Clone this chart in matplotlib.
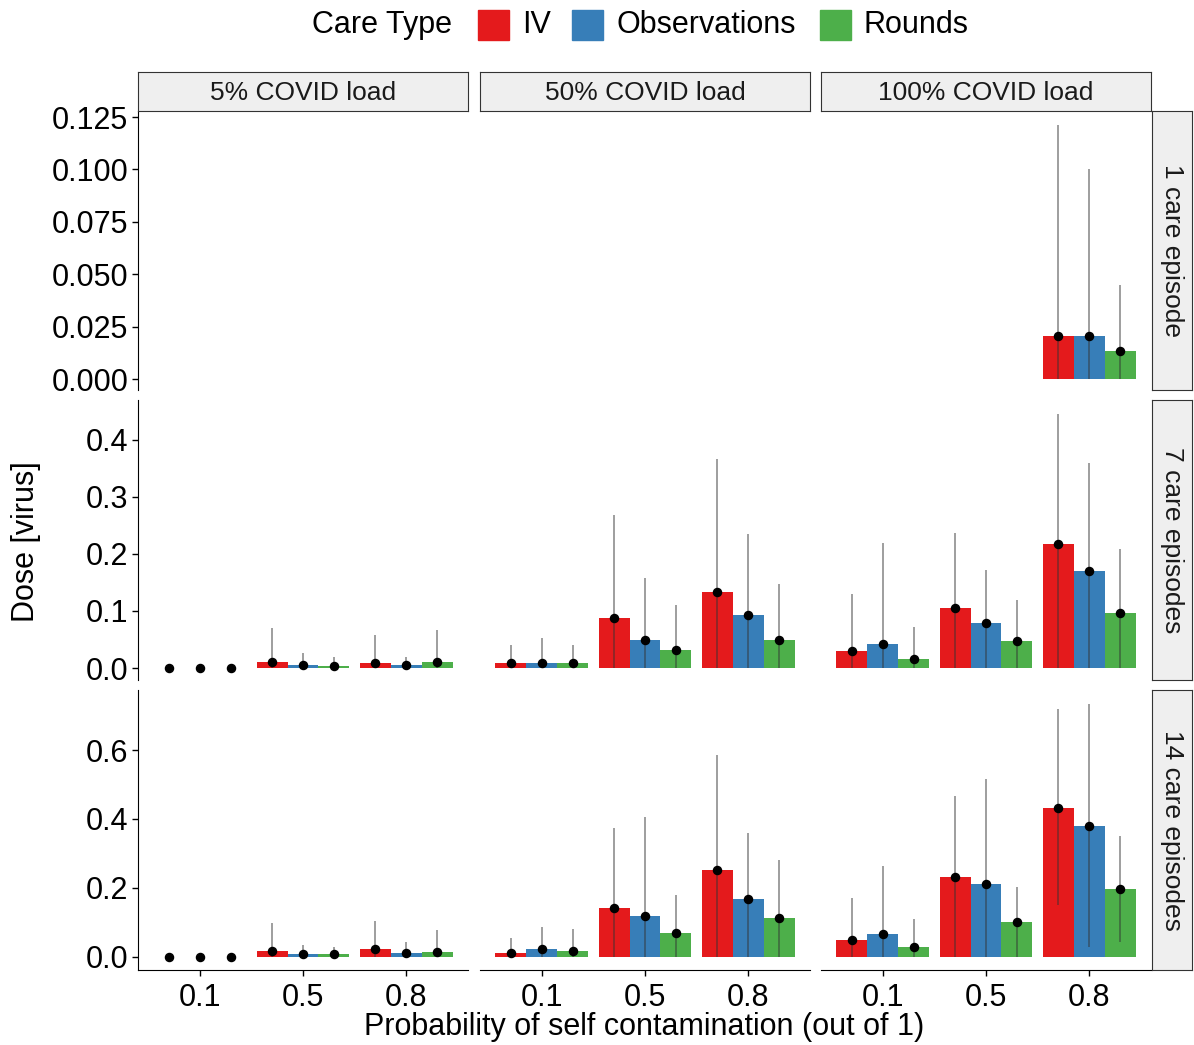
import numpy as np
import matplotlib
matplotlib.use('Agg')
import matplotlib.pyplot as plt
from matplotlib.patches import Rectangle

plt.rcParams['font.family'] = ['Liberation Sans', 'DejaVu Sans']

care_types = ['IV', 'Observations', 'Rounds']
colors = ['#E41A1C', '#377EB8', '#4DAF4A']
loads = ['5% COVID load', '50% COVID load', '100% COVID load']
episodes = ['1 care episode', '7 care episodes', '14 care episodes']
probs = ['0.1', '0.5', '0.8']

# values[load][prob] = [IV, Observations, Rounds]; nan = no data
nan = np.nan
mean_1 = [
    [[nan, nan, nan], [nan, nan, nan], [nan, nan, nan]],
    [[nan, nan, nan], [nan, nan, nan], [nan, nan, nan]],
    [[nan, nan, nan], [nan, nan, nan], [0.0205, 0.0205, 0.0135]],
]
upper_1 = [
    [[nan, nan, nan], [nan, nan, nan], [nan, nan, nan]],
    [[nan, nan, nan], [nan, nan, nan], [nan, nan, nan]],
    [[nan, nan, nan], [nan, nan, nan], [0.121, 0.100, 0.045]],
]
lower_1 = [
    [[nan, nan, nan], [nan, nan, nan], [nan, nan, nan]],
    [[nan, nan, nan], [nan, nan, nan], [nan, nan, nan]],
    [[nan, nan, nan], [nan, nan, nan], [0.0, 0.0, 0.0]],
]

mean_7 = [
    [[0.0, 0.0, 0.0], [0.010, 0.005, 0.004], [0.008, 0.005, 0.010]],
    [[0.008, 0.009, 0.008], [0.088, 0.049, 0.032], [0.133, 0.093, 0.049]],
    [[0.030, 0.042, 0.016], [0.105, 0.079, 0.047], [0.217, 0.170, 0.097]],
]
upper_7 = [
    [[0.0, 0.0, 0.0], [0.070, 0.026, 0.020], [0.058, 0.020, 0.067]],
    [[0.040, 0.052, 0.040], [0.268, 0.158, 0.110], [0.367, 0.235, 0.147]],
    [[0.130, 0.220, 0.072], [0.237, 0.172, 0.119], [0.445, 0.360, 0.209]],
]
lower_7 = [
    [[0.0, 0.0, 0.0], [0.0, 0.0, 0.0], [0.0, 0.0, 0.0]],
    [[0.0, 0.0, 0.0], [0.0, 0.0, 0.0], [0.0, 0.0, 0.0]],
    [[0.0, 0.0, 0.0], [0.0, 0.0, 0.0], [0.0, 0.0, 0.0]],
]

mean_14 = [
    [[0.0, 0.0, 0.0], [0.017, 0.009, 0.009], [0.022, 0.011, 0.015]],
    [[0.012, 0.022, 0.018], [0.142, 0.119, 0.069], [0.252, 0.168, 0.113]],
    [[0.049, 0.067, 0.029], [0.232, 0.212, 0.101], [0.432, 0.380, 0.197]],
]
upper_14 = [
    [[0.0, 0.0, 0.0], [0.098, 0.035, 0.030], [0.104, 0.043, 0.078]],
    [[0.055, 0.087, 0.080], [0.374, 0.406, 0.180], [0.585, 0.360, 0.281]],
    [[0.171, 0.264, 0.110], [0.467, 0.516, 0.203], [0.719, 0.733, 0.351]],
]
lower_14 = [
    [[0.0, 0.0, 0.0], [0.0, 0.0, 0.0], [0.0, 0.0, 0.0]],
    [[0.0, 0.0, 0.0], [0.0, 0.0, 0.0], [0.0, 0.0, 0.0]],
    [[0.0, 0.0, 0.0], [0.0, 0.0, 0.0], [0.151, 0.029, 0.043]],
]

means = [mean_1, mean_7, mean_14]
uppers = [upper_1, upper_7, upper_14]
lowers = [lower_1, lower_7, lower_14]

row_ticks = [[0, 0.025, 0.05, 0.075, 0.1, 0.125],
             [0, 0.1, 0.2, 0.3, 0.4],
             [0, 0.2, 0.4, 0.6]]
row_fmt = ['%.3f', '%.1f', '%.1f']
row_lims = [(-0.0052, 0.1279), (-0.021, 0.470), (-0.038, 0.774)]

W, H = 1194, 1045
fig = plt.figure(figsize=(W / 100, H / 100), dpi=100)

def px_axes(x0, y0, x1, y1):
    return fig.add_axes([x0 / W, 1 - y1 / H, (x1 - x0) / W, (y1 - y0) / H])

col_x = [(138, 468), (480, 810), (821, 1151)]
row_y = [(111, 390), (400, 680), (690, 970)]
strip_col = '#EFEFEF'

barw = 0.3
for r in range(3):
    for c in range(3):
        x0, x1 = col_x[c]
        y0, y1 = row_y[r]
        ax = px_axes(x0, y0, x1, y1)
        for k in range(3):
            xs = np.arange(1, 4) + (k - 1) * barw
            m = np.array([means[r][c][p][k] for p in range(3)])
            u = np.array([uppers[r][c][p][k] for p in range(3)])
            lo = np.array([lowers[r][c][p][k] for p in range(3)])
            ok = ~np.isnan(m)
            ax.bar(xs[ok], m[ok], width=barw, color=colors[k], linewidth=0)
            ax.vlines(xs[ok], lo[ok], u[ok], color='#333333', alpha=0.6, linewidth=1.1)
            ax.scatter(xs[ok], m[ok], s=34, color='black', zorder=5)
        ax.set_xlim(0.4, 3.6)
        ax.set_ylim(*row_lims[r])
        ax.set_yticks(row_ticks[r])
        ax.set_yticklabels([row_fmt[r] % t for t in row_ticks[r]])
        ax.set_xticks([1, 2, 3])
        ax.set_xticklabels(probs)
        for s in ['top', 'right']:
            ax.spines[s].set_visible(False)
        ax.spines['left'].set_visible(c == 0)
        ax.spines['bottom'].set_visible(r == 2)
        ax.tick_params(axis='both', labelsize=22, colors='black', length=4, width=1)
        if c != 0:
            ax.tick_params(axis='y', left=False, labelleft=False)
        if r != 2:
            ax.tick_params(axis='x', bottom=False, labelbottom=False)
        ax.tick_params(axis='x', pad=5)
        ax.tick_params(axis='y', pad=3)
        ax.patch.set_alpha(0)

        # facet strips
        if r == 0:
            sax = px_axes(x0, 72, x1, 111)
            sax.set_xticks([])
            sax.set_yticks([])
            sax.set_facecolor(strip_col)
            for sp in sax.spines.values():
                sp.set_color('#333333')
            sax.text(0.5, 0.47, loads[c], ha='center', va='center', fontsize=19,
                     color='#1a1a1a', transform=sax.transAxes)
        if c == 2:
            sax = px_axes(1152, y0, 1192, y1)
            sax.set_xticks([])
            sax.set_yticks([])
            sax.set_facecolor(strip_col)
            for sp in sax.spines.values():
                sp.set_color('#333333')
            sax.text(0.5, 0.5, episodes[r], ha='center', va='center', fontsize=19,
                     rotation=-90, color='#1a1a1a', transform=sax.transAxes)

fig.text(26 / W, 1 - 542 / H, 'Dose [virus]', rotation=90, ha='center', va='center', fontsize=22)
fig.text(644 / W, 1 - 1027 / H, 'Probability of self contamination (out of 1)',
         ha='center', va='center', fontsize=22)

# legend across the top
leg_y = 1 - 25 / H
fig.text(312 / W, leg_y, 'Care Type', ha='left', va='center', fontsize=22)
key_x = [478, 572, 820]
for k in range(3):
    fig.patches.append(Rectangle((key_x[k] / W, 1 - 40 / H), 31 / W, 30 / H,
                                 transform=fig.transFigure, color=colors[k]))
    fig.text((key_x[k] + 44) / W, leg_y, care_types[k], ha='left', va='center', fontsize=22)

fig.savefig('out.png', dpi=100)
